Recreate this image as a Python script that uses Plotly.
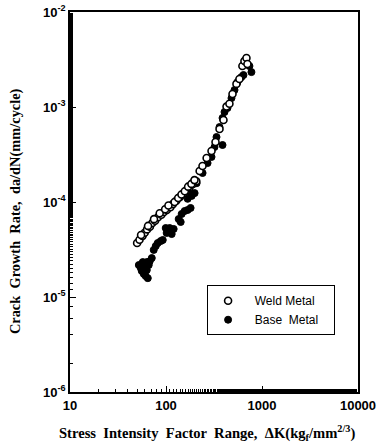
import plotly.graph_objects as go

# Weld metal (open circles): stress intensity factor range, crack growth rate
weld_dk = [50, 53, 57, 60, 63.5, 68, 72, 77, 82.5, 89.5, 95, 102, 111, 118, 128, 139, 150, 163, 176, 191, 207,
           55, 65, 75, 86, 98, 106, 123, 134, 145, 157, 170, 184, 198,
           224, 240, 265, 298, 328, 361, 397, 427, 458, 493, 542, 582, 625, 656, 689, 705]
weld_rate = [3.7e-5, 4.0e-5, 4.4e-5, 4.75e-5, 5.15e-5, 5.5e-5, 6.0e-5, 6.35e-5, 6.9e-5, 7.35e-5, 7.85e-5, 8.25e-5,
             8.8e-5, 9.5e-5, 1.03e-4, 1.12e-4, 1.21e-4, 1.32e-4, 1.43e-4, 1.55e-4, 1.65e-4,
             4.5e-5, 5.6e-5, 6.6e-5, 7.6e-5, 8.4e-5, 9.2e-5, 1.0e-4, 1.1e-4, 1.2e-4, 1.3e-4, 1.45e-4, 1.55e-4, 1.7e-4,
             2.12e-4, 2.39e-4, 2.91e-4, 3.44e-4, 4.28e-4, 5.86e-4, 7.3e-4, 1.01e-3, 1.08e-3, 1.37e-3, 1.75e-3,
             1.97e-3, 2.7e-3, 3.05e-3, 3.28e-3, 2.84e-3]

# Base metal (filled)
base_dk = [52.1, 54.6, 55.9, 57.3, 58.7, 60.1, 61.5, 63.1, 64.6, 66.1, 67.7, 71.1, 63.1, 57.3,
           74.5, 78.2, 82.0, 88.1, 92.5,
           99.3, 109.2, 120.2, 114.6, 101.6,
           135.5, 145.6, 156.4, 168.0, 180.4, 142.2,
           168, 185, 198.6,
           176.4, 208.4, 240.5, 271, 298, 320, 336, 361, 388, 388, 407, 437, 481, 517, 556, 611, 641, 740, 776]
base_rate = [2.17e-5, 2.02e-5, 1.88e-5, 2.33e-5, 1.75e-5, 2.07e-5, 1.66e-5, 1.92e-5, 1.58e-5, 2.17e-5, 2.38e-5,
             2.57e-5, 2.33e-5, 2.02e-5,
             3.13e-5, 3.44e-5, 3.7e-5, 3.88e-5, 3.98e-5,
             5.32e-5, 5.32e-5, 5.2e-5, 4.6e-5, 4.72e-5,
             6.62e-5, 7.48e-5, 8.04e-5, 8.24e-5, 8.65e-5, 6.16e-5,
             1.08e-4, 1.16e-4, 1.24e-4,
             1.27e-4, 1.58e-4, 2.02e-4, 2.57e-4, 2.98e-4, 3.79e-4, 4.83e-4, 6.15e-4, 3.98e-4, 7.66e-4, 8.86e-4,
             9.76e-4, 1.24e-3, 1.51e-3, 1.83e-3, 2.07e-3, 2.17e-3, 2.7e-3, 2.33e-3]

x_tickvals = [10, 100, 1000, 10000]
x_ticktext = ["10", "100", "1000", "10000"]
y_tickvals = [1e-6, 1e-5, 1e-4, 1e-3, 1e-2]
y_ticktext = ["10<sup>-6</sup>", "10<sup>-5</sup>", "10<sup>-4</sup>", "10<sup>-3</sup>", "10<sup>-2</sup>"]

x_title = "Stress  Intensity  Factor  Range,  ΔK(kg<sub>f</sub>/mm<sup>2/3</sup>)"
y_title = "Crack  Growth  Rate,  da/dN(mm/cycle)"

pad = "\u00a0"
fig = go.Figure()
fig.add_trace(go.Scatter(
    x=base_dk, y=base_rate, mode="markers", name=pad * 2 + "Base  Metal" + pad * 3,
    marker=dict(symbol="circle", size=7, color="black", line=dict(color="black", width=1)),
))
fig.add_trace(go.Scatter(
    x=weld_dk, y=weld_rate, mode="markers", name=pad * 2 + "Weld Metal" + pad * 3,
    marker=dict(symbol="circle", size=7, color="white", line=dict(color="black", width=1.6)),
))

axis_common = dict(
    type="log", showgrid=False, zeroline=False, showline=True, linecolor="black", linewidth=1.8,
    mirror=True, ticks="inside", ticklen=6, tickwidth=1.2, tickcolor="black", automargin=False,
    minor=dict(ticks="inside", ticklen=3, tickwidth=1, tickcolor="black", showgrid=False),
    tickfont=dict(family="Liberation Sans, Arial", size=13, color="black", weight="bold"),
)

serif = dict(family="Liberation Serif, Times New Roman", color="black", weight="bold")

fig.update_layout(
    width=380, height=446,
    margin=dict(l=70, r=22, t=12, b=54),
    paper_bgcolor="white", plot_bgcolor="white",
    showlegend=True,
    legend=dict(
        x=0.476, y=0.281, xanchor="left", yanchor="top",
        bordercolor="black", borderwidth=1, bgcolor="white",
        font=dict(family="Liberation Sans, Arial", size=12, color="black"),
        traceorder="reversed", tracegroupgap=0,
    ),
    xaxis=dict(**axis_common, range=[1, 4], tickvals=x_tickvals, ticktext=x_ticktext),
    yaxis=dict(**axis_common, range=[-6, -2], tickvals=y_tickvals, ticktext=y_ticktext),
    annotations=[
        dict(text=x_title, xref="paper", yref="paper", x=0.477, y=-0.108, xanchor="center", yanchor="middle",
             showarrow=False, font=dict(size=14.6, **serif)),
        dict(text=y_title, xref="paper", yref="paper", x=-0.191, y=0.476, xanchor="center", yanchor="middle",
             textangle=-90, showarrow=False, font=dict(size=14.4, **serif)),
    ],
)

fig.write_html("out.html", config={"displayModeBar": False},
               post_script="document.body.style.margin='0';document.body.style.overflow='hidden';")
